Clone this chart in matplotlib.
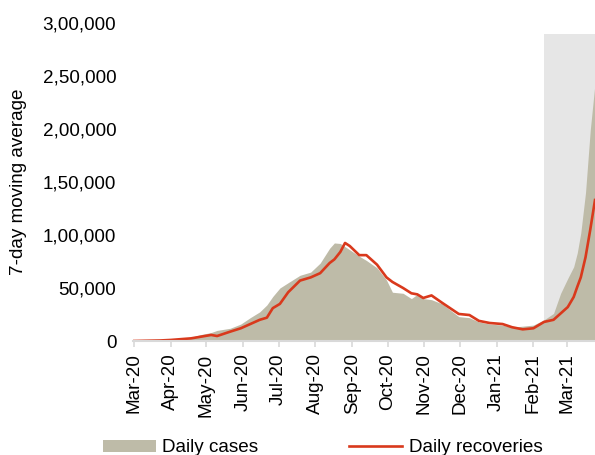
import numpy as np
import pandas as pd
import matplotlib
matplotlib.use("Agg")
import matplotlib.pyplot as plt
import matplotlib.dates as mdates
from matplotlib.ticker import FuncFormatter, MultipleLocator
from matplotlib.patches import Patch
from matplotlib.lines import Line2D

plt.rcParams['font.family'] = ['Liberation Sans', 'DejaVu Sans']

# 7-day moving averages, in thousands
dates = pd.to_datetime([
    "2020-03-01", "2020-03-23", "2020-04-01", "2020-04-18", "2020-04-26",
    "2020-05-05", "2020-05-10", "2020-05-21", "2020-05-30", "2020-06-07",
    "2020-06-15", "2020-06-21", "2020-06-26", "2020-07-02", "2020-07-09",
    "2020-07-19", "2020-07-28", "2020-08-05", "2020-08-13", "2020-08-17",
    "2020-08-22", "2020-08-26", "2020-08-30", "2020-09-07", "2020-09-13",
    "2020-09-22", "2020-09-30", "2020-10-05", "2020-10-14", "2020-10-21",
    "2020-10-26", "2020-10-31", "2020-11-07", "2020-11-16", "2020-11-30",
    "2020-12-09", "2020-12-17", "2020-12-26", "2021-01-06", "2021-01-14",
    "2021-01-23", "2021-02-01", "2021-02-10", "2021-02-18", "2021-02-24",
    "2021-03-02", "2021-03-07", "2021-03-10", "2021-03-13", "2021-03-17",
    "2021-03-21", "2021-03-25",
])
daily_cases = [
    0, 0.5, 1.5, 3.5, 6,
    8, 10, 12, 16, 22,
    27.5, 34, 42, 50, 55,
    62, 65, 73.5, 87.5, 92.5,
    92, 89, 86, 80, 76,
    69, 57.5, 46, 45, 40,
    44, 40, 39, 35, 23,
    22, 18, 16, 15, 13,
    14, 15, 20, 26, 45,
    59, 70, 83, 102, 140,
    199, 243,
]
daily_recoveries = [
    0, 0.5, 1, 2.5, 4,
    5.7, 4.7, 8.8, 12, 16,
    20, 22, 31, 35, 46,
    57, 60, 64, 73.6, 77,
    84, 92.5, 89.6, 81, 81,
    72, 60, 55.7, 50, 45,
    44, 40.6, 43, 36, 25.5,
    24.5, 19, 17, 16, 13,
    11, 12, 18, 20, 26,
    32, 41.5, 51, 60, 79,
    105, 133,
]
shade_start = pd.Timestamp("2021-02-10")
shade_top = 290000

cases = np.array(daily_cases) * 1000
recov = np.array(daily_recoveries) * 1000


def indian_fmt(v, pos=None):
    v = int(round(v))
    s = str(v)
    if len(s) <= 3:
        return s
    head, tail = s[:-3], s[-3:]
    parts = []
    while len(head) > 2:
        parts.insert(0, head[-2:])
        head = head[:-2]
    if head:
        parts.insert(0, head)
    return ",".join(parts) + "," + tail


fig = plt.figure(figsize=(5.95, 4.55), dpi=100)
ax = fig.add_axes([133/595, 114/455, 462/595, 318/455])

x_end = pd.Timestamp("2021-03-25")
ax.fill_between([shade_start, x_end], 0, shade_top, color='#e6e6e6', lw=0, zorder=0)
ax.fill_between(dates, 0, cases, color='#bebba8', lw=0, zorder=1)
ax.plot(dates, recov, color='#d9391c', lw=1.9, zorder=2)

ax.set_xlim(pd.Timestamp("2020-02-29"), x_end)
ax.set_ylim(0, 300000)
ax.yaxis.set_major_locator(MultipleLocator(50000))
ax.yaxis.set_major_formatter(FuncFormatter(indian_fmt))

ax.xaxis.set_major_locator(mdates.MonthLocator())
ax.xaxis.set_major_formatter(mdates.DateFormatter('%b-%y'))

for s in ['top', 'right', 'left']:
    ax.spines[s].set_visible(False)
ax.spines['bottom'].set_color('#d9d9d9')
ax.spines['bottom'].set_linewidth(1.5)

ax.tick_params(axis='y', length=0, pad=12, labelsize=13.6, colors='#000000')
ax.tick_params(axis='x', length=4, width=1.2, color='#d9d9d9', pad=5,
               labelsize=13.6, labelrotation=90)

fig.text(19/595, 0.6, '7-day moving average', rotation=90, ha='center',
         va='center', fontsize=13.6)

handles = [Patch(facecolor='#bebba8', edgecolor='none', label='Daily cases'),
           Line2D([0], [0], color='#d9391c', lw=1.9, label='Daily recoveries')]
fig.legend(handles=handles, loc='center left', bbox_to_anchor=(103/595, 7/455),
           ncol=2, frameon=False, fontsize=13.6, handlelength=2.8,
           handleheight=0.6, handletextpad=0.35, columnspacing=4.8,
           borderpad=0, borderaxespad=0)

fig.savefig('out.png', dpi=100)
